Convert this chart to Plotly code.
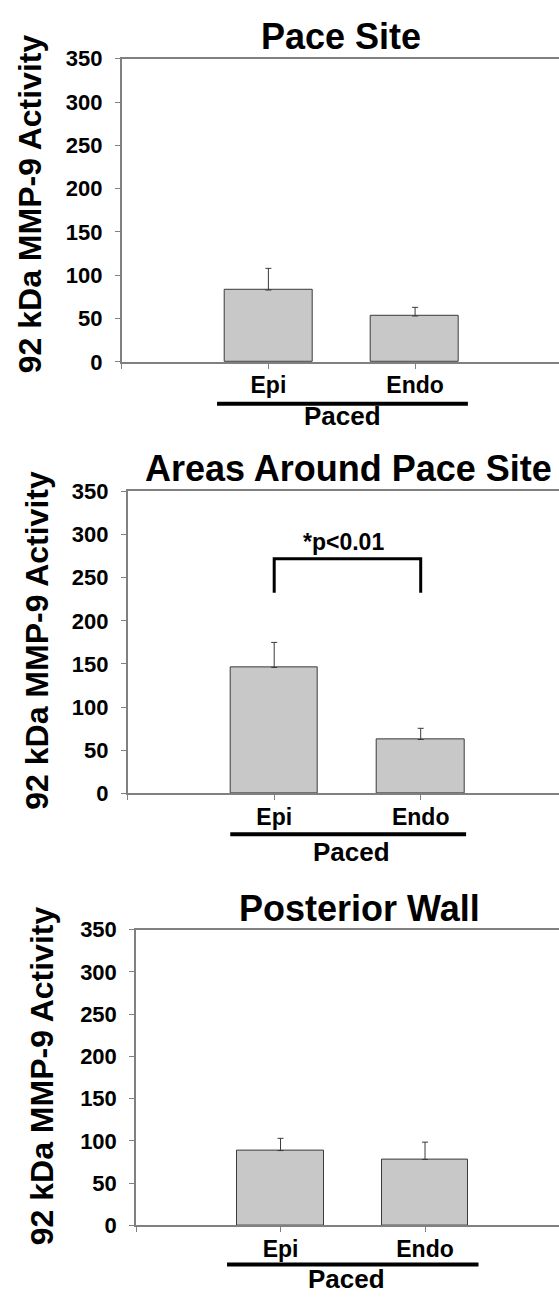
import plotly.graph_objects as go

# ---------------- data ----------------
categories = ["Epi", "Endo"]
panel_titles = ["Pace Site", "Areas Around Pace Site", "Posterior Wall"]
means_pace_site = [83, 53]
errs_pace_site = [25, 10]
means_around = [146, 62.5]
errs_around = [29, 13]
means_posterior = [88.5, 78]
errs_posterior = [14.5, 20.5]
y_ticks = [0, 50, 100, 150, 200, 250, 300, 350]
y_title = "92 kDa MMP-9 Activity"
group_label = "Paced"
sig_text = "*p<0.01"

H = 1308.0
W = 559.0
FONT = "Liberation Sans"

def py(px):
    return 1 - px / H

panels = [
    dict(means=means_pace_site, errs=errs_pace_site, axx=121.7, top=47.7, bot=356.7, xmax=2.981,
         title_x=341, title_y=25, ytitle_x=30, ytitle_y=196,
         ul=(0.65, 2.36, 399.3), paced=(1.507, 412)),
    dict(means=means_around, errs=errs_around, axx=127.7, top=488.7, bot=796.7, xmax=2.944,
         title_x=348, title_y=465, ytitle_x=37, ytitle_y=641,
         ul=(0.70, 2.31, 838.3), paced=(1.528, 856)),
    dict(means=means_posterior, errs=errs_posterior, axx=136.0, top=935.5, bot=1237.0, xmax=2.927,
         title_x=359, title_y=914, ytitle_x=42, ytitle_y=1085,
         ul=(0.63, 2.37, 1277), paced=(1.457, 1292)),
]

fig = go.Figure()
shapes = []
annotations = []
AX = "#808080"

for i, p in enumerate(panels):
    n = "" if i == 0 else str(i + 1)
    xa, ya = "x" + n, "y" + n
    fig.add_trace(go.Bar(
        x=[1, 2], y=p["means"], width=0.6,
        marker=dict(color="#c8c8c8", line=dict(color="#3a3a3a", width=1)),
        error_y=dict(type="data", array=p["errs"], arrayminus=[0, 0], symmetric=False,
                     color="#3a3a3a", thickness=1, width=3),
        xaxis=xa, yaxis=ya, showlegend=False, hoverinfo="skip",
    ))
    fig.layout["xaxis" + n] = dict(
        domain=[p["axx"] / W, 1], range=[0, p["xmax"]], anchor=ya,
        tickvals=[0, 1, 2, 3], ticktext=["", categories[0], categories[1], ""],
        ticks="outside", ticklen=5, tickcolor=AX, tickwidth=1,
        showline=True, linecolor=AX, linewidth=1.5, mirror=True,
        showgrid=False, zeroline=False, ticklabelstandoff=-3,
        tickfont=dict(family=FONT, size=23, color="black", weight=700),
    )
    fig.layout["yaxis" + n] = dict(
        domain=[py(p["bot"]), py(p["top"])], range=[0, 350], anchor=xa,
        tickvals=y_ticks, ticks="outside", ticklen=5, tickcolor=AX, tickwidth=1,
        showline=True, linecolor=AX, linewidth=1.5,
        showgrid=False, zeroline=False, ticklabelstandoff=8,
        tickfont=dict(family=FONT, size=22, color="black", weight=700),
    )
    # title
    annotations.append(dict(text=panel_titles[i], x=p["title_x"] / W, y=py(p["title_y"]),
                            xref="paper", yref="paper", showarrow=False,
                            xanchor="center", yanchor="middle",
                            font=dict(family=FONT, size=36, color="black", weight=700)))
    # y title
    annotations.append(dict(text=y_title, x=p["ytitle_x"] / W, y=py(p["ytitle_y"]),
                            xref="paper", yref="paper", showarrow=False, textangle=-90,
                            xanchor="center", yanchor="middle",
                            font=dict(family=FONT, size=32, color="black", weight=700)))
    # group underline and label
    x0, x1, uy = p["ul"]
    shapes.append(dict(type="line", xref=xa, yref="paper", x0=x0, x1=x1, y0=py(uy), y1=py(uy),
                       line=dict(color="black", width=4)))
    annotations.append(dict(text=group_label, x=p["paced"][0], y=py(p["paced"][1]),
                            xref=xa, yref="paper", showarrow=False,
                            xanchor="center", yanchor="middle",
                            font=dict(family=FONT, size=26, color="black", weight=700)))

# significance bracket on panel 2
shapes.append(dict(type="path", xref="x2", yref="y2",
                   path="M 1,232.6 L 1,272 L 2,272 L 2,232.6",
                   line=dict(color="black", width=3)))
annotations.append(dict(text=sig_text, x=1.47, y=291, xref="x2", yref="y2", showarrow=False,
                        xanchor="center", yanchor="middle",
                        font=dict(family=FONT, size=23, color="black", weight=700)))

fig.update_layout(
    width=559, height=1308, autosize=False,
    margin=dict(l=0, r=0, t=0, b=0),
    paper_bgcolor="white", plot_bgcolor="white",
    shapes=shapes, annotations=annotations,
    bargap=0,
)

fig.write_html("out.html")
